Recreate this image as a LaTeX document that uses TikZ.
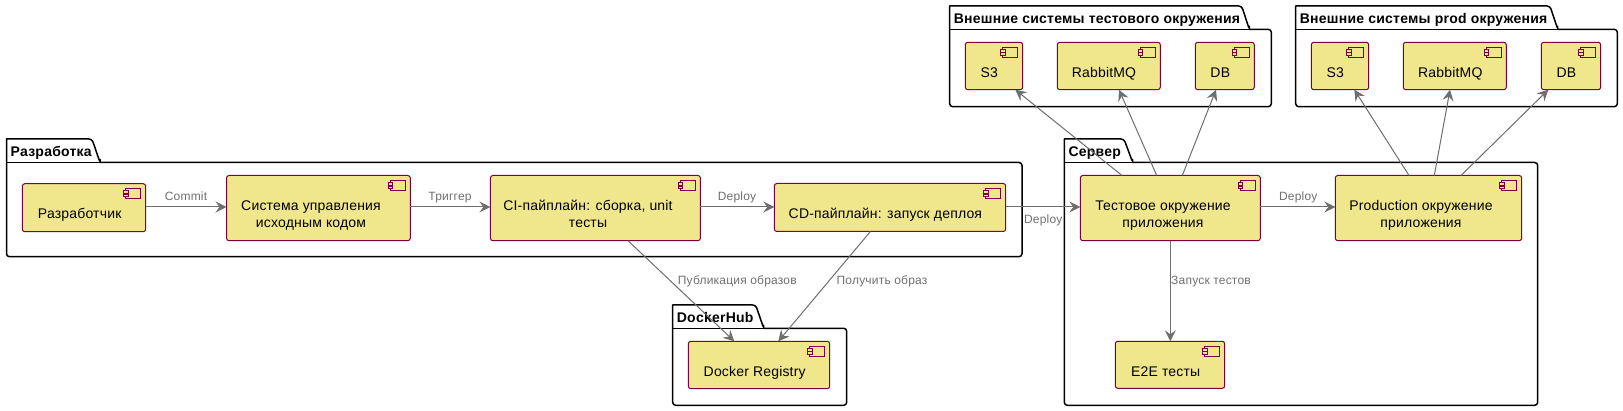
\documentclass[tikz,border=0pt]{standalone}
\usepackage{fontspec}
\setmainfont[LetterSpace=1.7]{Liberation Sans}
\newfontfamily\compfont[LetterSpace=1.3]{Liberation Sans}
\usetikzlibrary{arrows.meta}
\definecolor{khakifill}{HTML}{F0E68C}
\definecolor{compline}{HTML}{7A0040}
\definecolor{arrowgrey}{HTML}{6E6E6E}
\definecolor{labelgrey}{HTML}{707070}
\tikzset{
  x=1pt,y=-1pt,
  pkgline/.style={draw=black,line width=1.5pt,fill=white,line join=round},
  pkgtitle/.style={anchor=base west,inner sep=0pt,font=\fontsize{14}{17}\selectfont\bfseries},
  compbox/.style={draw=compline,fill=khakifill,line width=1pt,rounded corners=2.5pt,inner sep=0pt,outer sep=0pt},
  comptext/.style={inner sep=0pt,align=center,text=black,font=\compfont\fontsize{14}{17}\selectfont},
  iconpart/.style={draw=compline,fill=khakifill,line width=1pt},
  conn/.style={draw=arrowgrey,line width=1pt,-{Stealth[length=11pt,width=11pt,inset=4pt]}},
  connlabel/.style={anchor=base,inner sep=0pt,text=labelgrey,font=\fontsize{12}{14}\selectfont},
}
% left, top, body top, corner x, tab right, right, bottom, name, title
\newcommand{\pkgdraw}[9]{%
  \path[pkgline] (#1,#3) -- (#1,#2) [rounded corners=3pt] -- (#4,#2) -- (#5,#3) [sharp corners] -- (#5,#3) [rounded corners=3pt] -- (#6,#3) -- (#6,#7) -- (#1,#7) -- cycle;
  \draw[black,line width=1.5pt] (#1,#3) -- (#5,#3);
  \node[pkgtitle] (#8) at ({#1+4},{#2+17.3}) {#9};
}
% name, x1, y1, x2, y2, text cx, text cy, text
\newcommand{\compdraw}[8]{%
  \node[compbox,minimum width={(#4-#2)*1pt},minimum height={(#5-#3)*1pt}] (#1) at ({(#2+#4)/2},{(#3+#5)/2}) {};
  \path[iconpart] ([shift={(-20,5)}]#1.north east) rectangle ([shift={(-5,15.3)}]#1.north east);
  \path[iconpart] ([shift={(-22.3,7.2)}]#1.north east) rectangle ([shift={(-17.5,9.8)}]#1.north east);
  \path[iconpart] ([shift={(-22.3,10.7)}]#1.north east) rectangle ([shift={(-17.5,13.3)}]#1.north east);
  \node[comptext] (#1t) at (#6,{#7+2.2}) {#8};
}
\begin{document}
\begin{tikzpicture}
\useasboundingbox[fill=white] (0,0) rectangle (1623,411);
% packages
\pkgdraw{6.5}{139}{162.5}{92}{100}{1022}{256.7}{pdev}{Разработка}
\pkgdraw{672.7}{305}{328.3}{755.7}{763.7}{846.7}{405.3}{phub}{DockerHub}
\pkgdraw{1064.3}{139}{162.5}{1124}{1132.7}{1537.7}{405.3}{psrv}{Сервер}
\pkgdraw{949.7}{6}{29.3}{1241.7}{1249.3}{1271.3}{106.7}{ptest}{Внешние системы тестового окружения}
\pkgdraw{1295.7}{6}{29.3}{1550}{1557.7}{1617.3}{106.7}{pprod}{Внешние системы prod окружения}
% components
\compdraw{dev}{22.3}{183.7}{145.7}{231.7}{79.7}{213.3}{\strut Разработчик}
\compdraw{scm}{226.5}{175.5}{410.3}{240.7}{311}{213.8}{\strut Система управления\\\strut исходным кодом}
\compdraw{ci}{490.4}{175.5}{700.4}{240.7}{588}{213.8}{\strut CI-пайплайн: сборка, unit\\\strut тесты}
\compdraw{cd}{774.3}{183.5}{1005.7}{231.5}{885.4}{213.3}{\strut CD-пайплайн: запуск деплоя}
\compdraw{reg}{688.3}{341.3}{829.7}{388.7}{754.7}{371}{\strut Docker Registry}
\compdraw{tenv}{1080.3}{175.5}{1260.3}{240.7}{1163}{213.8}{\strut Тестовое окружение\\\strut приложения}
\compdraw{penv}{1335.3}{175.5}{1521.7}{240.7}{1421}{213.8}{\strut Production окружение\\\strut приложения}
\compdraw{e2e}{1115.3}{341.3}{1224.7}{388.3}{1165.7}{371.3}{\strut E2E тесты}
\compdraw{ts3}{965.3}{42.3}{1022.7}{89.7}{989.3}{72}{\strut S3}
\compdraw{tmq}{1057.3}{42.3}{1160.3}{89.7}{1104}{72}{\strut RabbitMQ}
\compdraw{tdb}{1195.3}{42.3}{1254.3}{89.7}{1220.3}{72}{\strut DB}
\compdraw{ps3}{1311.3}{42.3}{1368.7}{89.7}{1335.3}{72}{\strut S3}
\compdraw{pmq}{1403.3}{42.3}{1506.3}{89.7}{1450.3}{72}{\strut RabbitMQ}
\compdraw{pdb}{1541.3}{42.3}{1600.7}{89.7}{1566.3}{72}{\strut DB}
% connectors
\draw[conn] (dev.east |- 0,207) -- (scm.west |- 0,207);
\draw[conn] (scm.east |- 0,207) -- (ci.west |- 0,207);
\draw[conn] (ci.east |- 0,207) -- (cd.west |- 0,207);
\draw[conn] (cd.east |- 0,207) -- (tenv.west |- 0,207);
\draw[conn] (tenv.east |- 0,207) -- (penv.west |- 0,207);
\draw[conn] ([xshift=137.6pt]ci.south west) -- ([xshift=46pt]reg.north west);
\draw[conn] ([xshift=96.1pt]cd.south west) -- ([xshift=90pt]reg.north west);
\draw[conn] ([xshift=90pt]tenv.south west) -- ([xshift=55pt]e2e.north west);
\draw[conn] ([xshift=41.7pt]tenv.north west) -- ([xshift=50pt]ts3.south west);
\draw[conn] ([xshift=76.4pt]tenv.north west) -- ([xshift=61.7pt]tmq.south west);
\draw[conn] ([xshift=102pt]tenv.north west) -- ([xshift=20.7pt]tdb.south west);
\draw[conn] ([xshift=73.7pt]penv.north west) -- ([xshift=43pt]ps3.south west);
\draw[conn] ([xshift=99pt]penv.north west) -- ([xshift=46.7pt]pmq.south west);
\draw[conn] ([xshift=125.7pt]penv.north west) -- ([xshift=7pt]pdb.south west);
% connector labels
\node[connlabel] (l1) at (186,201) {Commit};
\node[connlabel] (l2) at (450,201) {Триггер};
\node[connlabel] (l3) at (737,201) {Deploy};
\node[connlabel] (l4) at (1043.3,224) {Deploy};
\node[connlabel] (l5) at (1298.3,201) {Deploy};
\node[connlabel] (l6) at (737.3,284.7) {Публикация образов};
\node[connlabel] (l7) at (882,284.7) {Получить образ};
\node[connlabel] (l8) at (1211,285) {Запуск тестов};
\end{tikzpicture}
\end{document}
